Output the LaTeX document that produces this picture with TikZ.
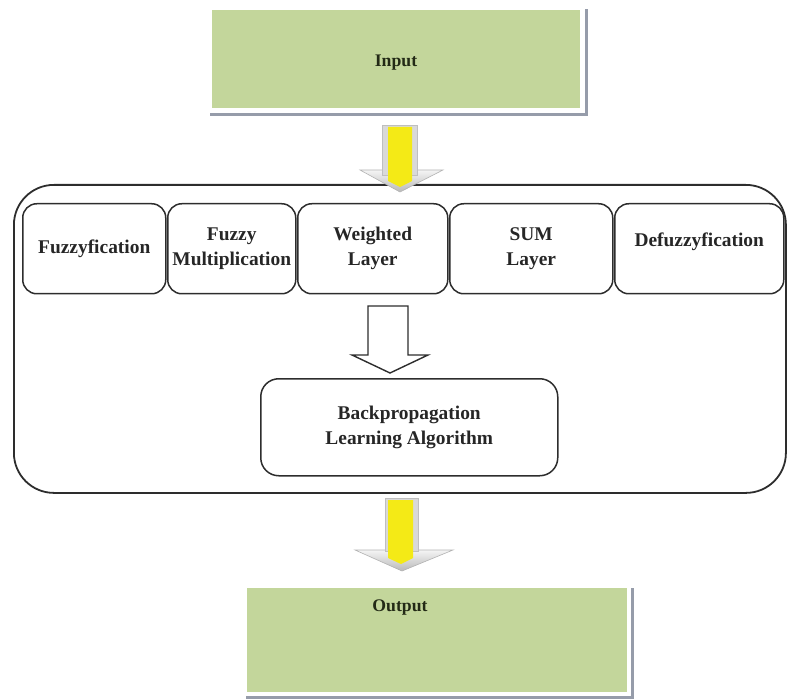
\documentclass[tikz,border=0pt]{standalone}
\usepackage{fontspec}
\setmainfont{Liberation Serif}
\usetikzlibrary{calc}
\definecolor{boxgreen}{RGB}{195,214,155}
\definecolor{linec}{RGB}{45,45,45}
\definecolor{txtgreen}{RGB}{35,42,22}
\definecolor{arryellow}{RGB}{244,234,22}
\definecolor{shadowc}{RGB}{150,156,170}
\begin{document}
\begin{tikzpicture}[x=1pt,y=-1pt,
  font=\fontsize{19.4}{25}\selectfont\bfseries,
  layer/.style={draw=linec, line width=1.5pt, rounded corners=14pt, align=center,
    anchor=north west, inner sep=2pt, text=black!85},
  greenbox/.style={fill=boxgreen, draw=none, anchor=north west},
  iolabel/.style={text=txtgreen, font=\fontsize{17.7}{22}\selectfont\bfseries},
  hollowarrow/.style={draw=linec, line width=1.4pt, fill=white, line join=miter},
  headshade/.style={top color=white!92!gray, bottom color=gray!55, draw=gray!60, line width=0.6pt},
  shaftedge/.style={fill=gray!30, draw=gray!50, line width=0.5pt},
  shaftfill/.style={fill=arryellow, draw=none}
]
\useasboundingbox (0,0) rectangle (789,700);

% Input box
\fill[shadowc] (210,9) rectangle (588,116);
\fill[white] (206,5) rectangle (585,113);
\node[greenbox, minimum width=368pt, minimum height=98pt] (in) at (212,10) {};
\node[iolabel] (intxt) at (396,63) {Input};

% Outer frame
\node[draw=linec, line width=1.8pt, rounded corners=40pt, anchor=north west,
  minimum width=772pt, minimum height=308pt] (frame) at (13,184) {};

% Layer boxes
\node[layer, minimum width=143pt, minimum height=90pt] (f1) at (22,203) {Fuzzyfication};
\node[layer, minimum width=128pt, minimum height=90pt] (f2) at (167,203) {Fuzzy\\Multiplication};
\node[layer, minimum width=150pt, minimum height=90pt] (f3) at (297,203) {Weighted\\Layer};
\node[layer, minimum width=163pt, minimum height=90pt] (f4) at (449,203) {SUM\\Layer};
\node[layer, minimum width=169pt, minimum height=90pt] (f5) at (614,203) {};
\node[text=black!85] (f5txt) at ($(f5.center)+(0,-7)$) {Defuzzyfication};

% Backpropagation box
\node[layer, rounded corners=18pt, minimum width=297pt, minimum height=97pt] (bp) at (260,378) {Backpropagation\\Learning Algorithm};

% Hollow arrow from layers to backprop
\coordinate (h0) at (388,306);
\draw[hollowarrow] (h0) ++(-20,0) -- ++(40,0) -- ++(0,49) -- ++(20,0) -- (390,373)
  -- (352,355) -- (368,355) -- cycle;

% Output box
\fill[shadowc] (246,588) rectangle (634,699);
\fill[white] (243,584) rectangle (631,696);
\node[greenbox, minimum width=380pt, minimum height=104pt] (out) at (247,588) {};
\node[iolabel] (outtxt) at (400,608) {Output};

% Yellow arrow: Input -> frame
\coordinate (a1) at (400,125);
\begin{scope}[shift={(a1)}]
  \path[headshade] (-40,45) -- (43,45) -- (0,67) -- cycle;
  \path[shaftedge] (-18,0) rectangle (17,50);
  \path[shaftfill] (-12,2) -- (12,2) -- (12,56) -- (0,62) -- (-12,56) -- cycle;
\end{scope}

% Yellow arrow: frame -> Output
\coordinate (a2) at (401,498);
\begin{scope}[shift={(a2)}]
  \path[headshade] (-46,52) -- (52,52) -- (1,73) -- cycle;
  \path[shaftedge] (-16,0) rectangle (17,53);
  \path[shaftfill] (-13,2) -- (12,2) -- (12,60) -- (0,66) -- (-13,60) -- cycle;
\end{scope}
\end{tikzpicture}
\end{document}
